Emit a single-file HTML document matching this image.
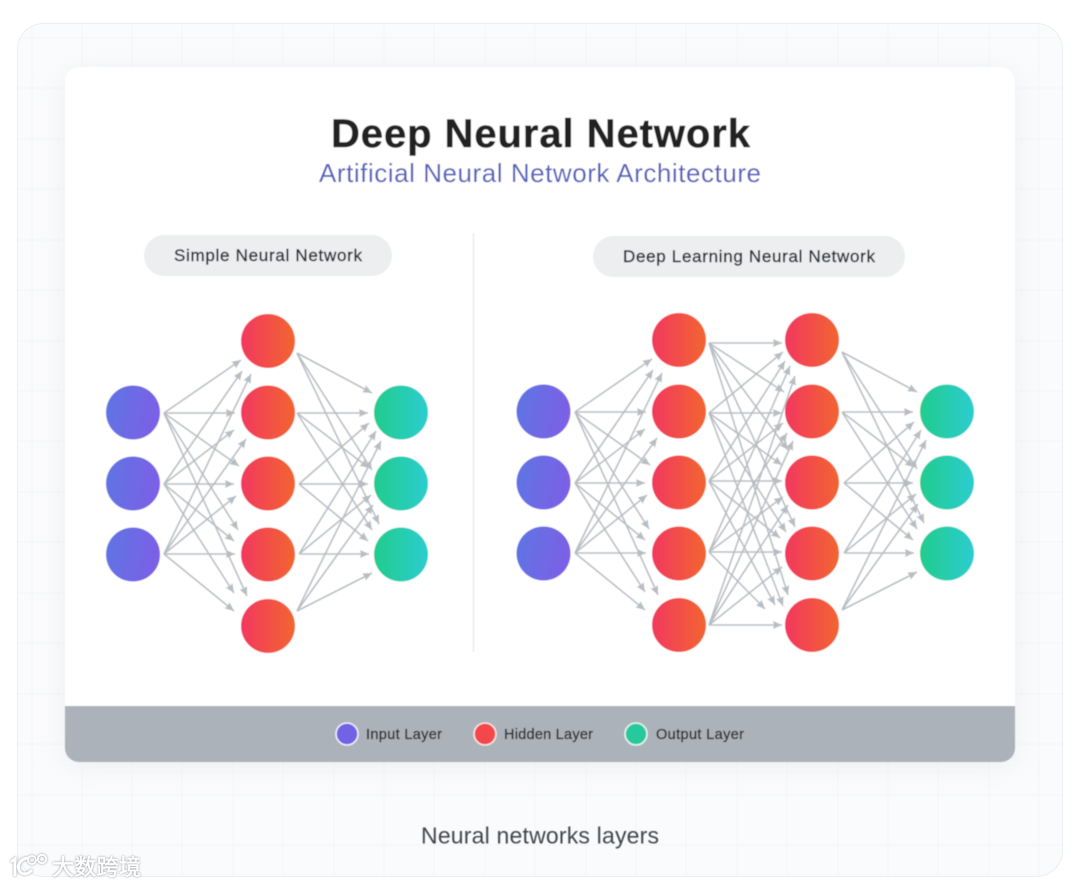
<!DOCTYPE html>
<html><head><meta charset="utf-8">
<style>
html,body{margin:0;padding:0;background:#fff;width:1080px;height:886px;overflow:hidden}
svg{display:block}
text{font-family:"Liberation Sans","Noto Sans CJK SC",sans-serif}
circle.n{r:27px}
</style></head>
<body>
<svg xmlns="http://www.w3.org/2000/svg" width="1080" height="886" viewBox="0 0 1080 886">
<defs>
<linearGradient id="gi" x1="0" y1="0.3" x2="1" y2="0.5"><stop offset="0" stop-color="#5f74e3"/><stop offset="1" stop-color="#7d5fe6"/></linearGradient>
<linearGradient id="gh"><stop offset="0" stop-color="#f2385f"/><stop offset="1" stop-color="#f2652f"/></linearGradient>
<linearGradient id="go"><stop offset="0" stop-color="#22cc8c"/><stop offset="1" stop-color="#2bcdd0"/></linearGradient>
<marker id="a" markerUnits="userSpaceOnUse" markerWidth="10" markerHeight="10" refX="9" refY="4.5" orient="auto"><path d="M0 0.5L9 4.5L0 8.5L1 4.5Z" fill="#b8bdc2"/></marker>
<filter id="sh" x="-10%" y="-10%" width="120%" height="120%"><feGaussianBlur stdDeviation="13"/></filter>
<filter id="soft" x="-5%" y="-5%" width="110%" height="110%"><feGaussianBlur stdDeviation="0.45"/></filter>
<filter id="wm" x="-10%" y="-30%" width="120%" height="160%"><feDropShadow dx="0" dy="0" stdDeviation="1" flood-color="#7f858b" flood-opacity="1"/></filter>
<clipPath id="pc"><rect x="17" y="23" width="1046" height="854" rx="26"/></clipPath>
<clipPath id="cc"><rect x="65" y="67" width="950" height="695" rx="14"/></clipPath>

<g id="lf" fill="none" stroke="#b8bdc2" stroke-width="1.6">
<path marker-end="url(#a)" d="M164 413L241 360"/><path marker-end="url(#a)" d="M164 413L235 413"/><path marker-end="url(#a)" d="M164 413L239 466"/><path marker-end="url(#a)" d="M164 413L238 530"/><path marker-end="url(#a)" d="M164 413L247 596"/>
<path marker-end="url(#a)" d="M164 484L242 371"/><path marker-end="url(#a)" d="M164 484L234 430"/><path marker-end="url(#a)" d="M164 484L234 484"/><path marker-end="url(#a)" d="M164 484L234 541"/><path marker-end="url(#a)" d="M164 484L234 593"/>
<path marker-end="url(#a)" d="M164 554L251 374"/><path marker-end="url(#a)" d="M164 554L246 439"/><path marker-end="url(#a)" d="M164 554L236 496"/><path marker-end="url(#a)" d="M164 554L235 554"/><path marker-end="url(#a)" d="M164 554L234 611"/>
</g>
<g id="rf" fill="none" stroke="#b8bdc2" stroke-width="1.6">
<path marker-end="url(#a)" d="M297 353L372 393"/><path marker-end="url(#a)" d="M297 353L372 470"/><path marker-end="url(#a)" d="M297 353L379 524"/>
<path marker-end="url(#a)" d="M297 413L368 413"/><path marker-end="url(#a)" d="M297 413L369 468"/><path marker-end="url(#a)" d="M297 413L372 530"/>
<path marker-end="url(#a)" d="M299 484L369 423"/><path marker-end="url(#a)" d="M299 484L368 484"/><path marker-end="url(#a)" d="M299 484L368 541"/>
<path marker-end="url(#a)" d="M299 554L376 431"/><path marker-end="url(#a)" d="M299 554L371 495"/><path marker-end="url(#a)" d="M299 554L369 554"/>
<path marker-end="url(#a)" d="M297 611L381 441"/><path marker-end="url(#a)" d="M297 611L373 505"/><path marker-end="url(#a)" d="M297 611L372 573"/>
</g>
</defs>

<!-- panel -->
<rect x="17" y="23" width="1046" height="854" rx="26" fill="#fafbfc"/>
<g clip-path="url(#pc)" stroke="#f4f5f7" stroke-width="1">
<path d="M32 23V877M82 23V877M132 23V877M182 23V877M233 23V877M283 23V877M334 23V877M384 23V877M434 23V877M485 23V877M535 23V877M586 23V877M636 23V877M686 23V877M737 23V877M787 23V877M838 23V877M888 23V877M938 23V877M989 23V877M1039 23V877"/>
<path d="M17 38H1063M17 88H1063M17 139H1063M17 189H1063M17 240H1063M17 290H1063M17 341H1063M17 391H1063M17 441H1063M17 492H1063M17 542H1063M17 593H1063M17 643H1063M17 694H1063M17 744H1063M17 795H1063M17 845H1063"/>
</g>
<rect x="17.5" y="23.5" width="1045" height="853" rx="26" fill="none" stroke="#eceef1"/>

<!-- card -->
<rect x="65" y="71" width="950" height="695" rx="14" fill="#dfe3ea" opacity="0.55" filter="url(#sh)"/>
<g filter="url(#soft)">
<rect x="65" y="67" width="950" height="695" rx="14" fill="#fff"/>
<g clip-path="url(#cc)"><rect x="65" y="706" width="950" height="56" fill="#abb2b9"/></g>

<text x="331" y="147" font-size="40" font-weight="700" fill="#222" stroke="#222" stroke-width="0.5" textLength="419" lengthAdjust="spacing">Deep Neural Network</text>
<text x="319" y="182" font-size="26" fill="#5561b9" textLength="442" lengthAdjust="spacing">Artificial Neural Network Architecture</text>

<rect x="144" y="235" width="248" height="41" rx="20.5" fill="#eceef0"/>
<rect x="593" y="236" width="312" height="41" rx="20.5" fill="#eceef0"/>
<text x="174" y="261" font-size="17" fill="#2c3035" textLength="188" lengthAdjust="spacing" stroke="#2c3035" stroke-width="0.4">Simple Neural Network</text>
<text x="623" y="262" font-size="17" fill="#2c3035" textLength="252" lengthAdjust="spacing" stroke="#2c3035" stroke-width="0.4">Deep Learning Neural Network</text>
<line x1="473.5" y1="233" x2="473.5" y2="652" stroke="#e4e6e9" stroke-width="1.2"/>

<!-- simple network -->
<use href="#lf"/><use href="#rf"/>
<g fill="url(#gi)"><circle cx="133" cy="412.5" r="27"/><circle cx="133" cy="483.5" r="27"/><circle cx="133" cy="554.5" r="27"/></g>
<g fill="url(#gh)"><circle cx="268" cy="341" r="27"/><circle cx="268" cy="412.5" r="27"/><circle cx="268" cy="483.5" r="27"/><circle cx="268" cy="554.5" r="27"/><circle cx="268" cy="626" r="27"/></g>
<g fill="url(#go)"><circle cx="401" cy="412.5" r="27"/><circle cx="401" cy="483.5" r="27"/><circle cx="401" cy="554.5" r="27"/></g>

<!-- deep network -->
<use href="#lf" transform="translate(411,-1)"/><use href="#rf" transform="translate(545,-1)"/>
<g fill="none" stroke="#b8bdc2" stroke-width="1.6">
<path marker-end="url(#a)" d="M709 343L782 343"/><path marker-end="url(#a)" d="M709 343L784 392"/><path marker-end="url(#a)" d="M709 343L788 450"/><path marker-end="url(#a)" d="M709 343L795 527"/><path marker-end="url(#a)" d="M709 343L788 595"/>
<path marker-end="url(#a)" d="M709 413L783 352"/><path marker-end="url(#a)" d="M709 413L782 413"/><path marker-end="url(#a)" d="M709 413L782 465"/><path marker-end="url(#a)" d="M709 413L786 532"/><path marker-end="url(#a)" d="M709 413L783 606"/>
<path marker-end="url(#a)" d="M709 481L785 361"/><path marker-end="url(#a)" d="M709 481L783 423"/><path marker-end="url(#a)" d="M709 481L782 481"/><path marker-end="url(#a)" d="M709 481L780 538"/><path marker-end="url(#a)" d="M709 481L775 605"/>
<path marker-end="url(#a)" d="M709 552L790 366"/><path marker-end="url(#a)" d="M709 552L787 433"/><path marker-end="url(#a)" d="M709 552L783 497"/><path marker-end="url(#a)" d="M709 552L782 552"/><path marker-end="url(#a)" d="M709 552L765 609"/>
<path marker-end="url(#a)" d="M709 625L795 376"/><path marker-end="url(#a)" d="M709 625L793 441"/><path marker-end="url(#a)" d="M709 625L788 505"/><path marker-end="url(#a)" d="M709 625L782 567"/><path marker-end="url(#a)" d="M709 625L782 625"/>
</g>
<g fill="url(#gi)"><circle cx="543.5" cy="411.5" r="27"/><circle cx="543.5" cy="482.5" r="27"/><circle cx="543.5" cy="553.5" r="27"/></g>
<g fill="url(#gh)"><circle cx="679" cy="340" r="27"/><circle cx="679" cy="411.5" r="27"/><circle cx="679" cy="482.5" r="27"/><circle cx="679" cy="553.5" r="27"/><circle cx="679" cy="625" r="27"/></g>
<g fill="url(#gh)"><circle cx="812" cy="340" r="27"/><circle cx="812" cy="411.5" r="27"/><circle cx="812" cy="482.5" r="27"/><circle cx="812" cy="553.5" r="27"/><circle cx="812" cy="625" r="27"/></g>
<g fill="url(#go)"><circle cx="947" cy="411.5" r="27"/><circle cx="947" cy="482.5" r="27"/><circle cx="947" cy="553.5" r="27"/></g>

<!-- legend -->
<circle cx="347" cy="734" r="11" fill="#6f63e6" stroke="#eef0fa" stroke-width="1.6"/>
<circle cx="485" cy="734" r="11" fill="#f4474a" stroke="#f8e6e4" stroke-width="1.6"/>
<circle cx="636" cy="734" r="11" fill="#25c99c" stroke="#e6f6f2" stroke-width="1.6"/>
<g font-size="14.5" fill="#2c3035" stroke="#2c3035" stroke-width="0.35">
<text x="366" y="739" textLength="76" lengthAdjust="spacing">Input Layer</text>
<text x="504" y="739" textLength="89" lengthAdjust="spacing">Hidden Layer</text>
<text x="656" y="739" textLength="88" lengthAdjust="spacing">Output Layer</text>
</g>

<text x="421" y="843.5" font-size="23" fill="#43474c" textLength="238" lengthAdjust="spacing">Neural networks layers</text>
</g>

<!-- watermark -->
<g filter="url(#wm)">
<g fill="none" stroke="#fff" stroke-linecap="round">
<path d="M12 861L15 859V875" stroke-width="3"/>
<path d="M28 858C20 859 17 865 19 870C21 875 27 875 31 871" stroke-width="3"/>
<circle cx="32" cy="860" r="4" stroke-width="1.8"/><circle cx="42" cy="859" r="4.2" stroke-width="1.8"/>
</g>
<text x="52" y="875" font-size="22" fill="#fff" stroke="#fff" stroke-width="0.4" textLength="89" lengthAdjust="spacing">大数跨境</text>
</g>
</svg>
</body></html>
